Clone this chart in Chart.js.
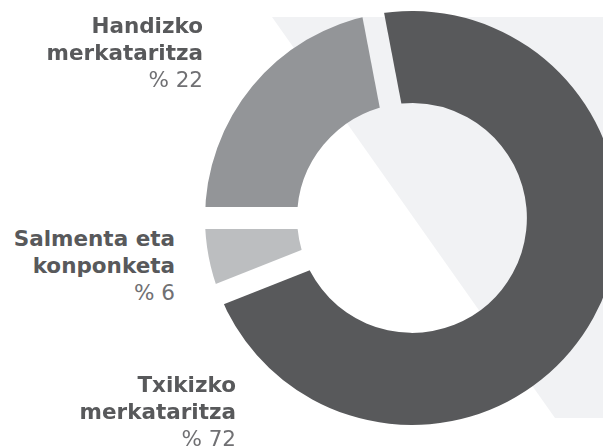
<!DOCTYPE html>
<html>
<head>
<meta charset="utf-8">
<script src="https://cdn.jsdelivr.net/npm/chart.js@4.4.1/dist/chart.umd.min.js"></script>
<style>
  html,body{margin:0;padding:0;background:#fff;overflow:hidden;width:603px;height:447px;}
  #bg{position:absolute;left:0;top:0;width:603px;height:447px;background:#f1f2f4;
      clip-path:polygon(272px 17px,603px 17px,603px 418px,555px 418px);}
  #wrap{position:absolute;left:182px;top:-12px;width:460px;height:460px;}
  .lbl{position:absolute;text-align:right;font-family:"DejaVu Sans",sans-serif;font-size:21.5px;line-height:27px;white-space:nowrap;}
  .lbl b{display:block;font-weight:bold;color:#58595b;}
  .lbl span{display:block;font-weight:normal;color:#707073;}
</style>
</head>
<body>
<div id="bg"></div>
<div id="wrap"><canvas id="c" width="460" height="460"></canvas></div>
<div id="labels"></div>
<script>
const categories = [['Txikizko','merkataritza'], ['Salmenta eta','konponketa'], ['Handizko','merkataritza']];
const values = [72, 6, 22];
const valueLabels = ['% 72', '% 6', '% 22'];
const colors = ['#58595b', '#bcbec0', '#939598'];

// label layout (right edge x, top y)
const labelPos = [{right: 603-236, top: 371}, {right: 603-175, top: 225}, {right: 603-203, top: 12}];
const labelsDiv = document.getElementById('labels');
categories.forEach((lines, i) => {
  const d = document.createElement('div');
  d.className = 'lbl';
  d.style.right = labelPos[i].right + 'px';
  d.style.top = labelPos[i].top + 'px';
  lines.forEach(t => { const b = document.createElement('b'); b.textContent = t; d.appendChild(b); });
  const s = document.createElement('span'); s.textContent = valueLabels[i]; d.appendChild(s);
  labelsDiv.appendChild(d);
});

const GAP = 22;
const gapPlugin = {
  id: 'gaps',
  afterDatasetsDraw(chart) {
    const ctx = chart.ctx;
    const meta = chart.getDatasetMeta(0);
    ctx.save();
    ctx.globalCompositeOperation = 'destination-out';
    meta.data.forEach(arc => {
      const p = arc.getProps(['x','y','startAngle','outerRadius'], true);
      ctx.save();
      ctx.translate(p.x, p.y);
      ctx.rotate(p.startAngle);
      ctx.fillStyle = '#000';
      ctx.fillRect(0, -GAP/2, p.outerRadius + 10, GAP);
      ctx.restore();
    });
    ctx.restore();
  }
};

new Chart(document.getElementById('c'), {
  type: 'doughnut',
  data: {
    labels: categories,
    datasets: [{ data: values, backgroundColor: colors, borderWidth: 0, hoverOffset: 0 }]
  },
  options: {
    responsive: false,
    animation: false,
    rotation: -10.8,
    radius: 207,
    cutout: '55.5%',
    layout: { padding: 0 },
    events: [],
    plugins: { legend: { display: false }, tooltip: { enabled: false } }
  },
  plugins: [gapPlugin]
});
</script>
</body>
</html>
